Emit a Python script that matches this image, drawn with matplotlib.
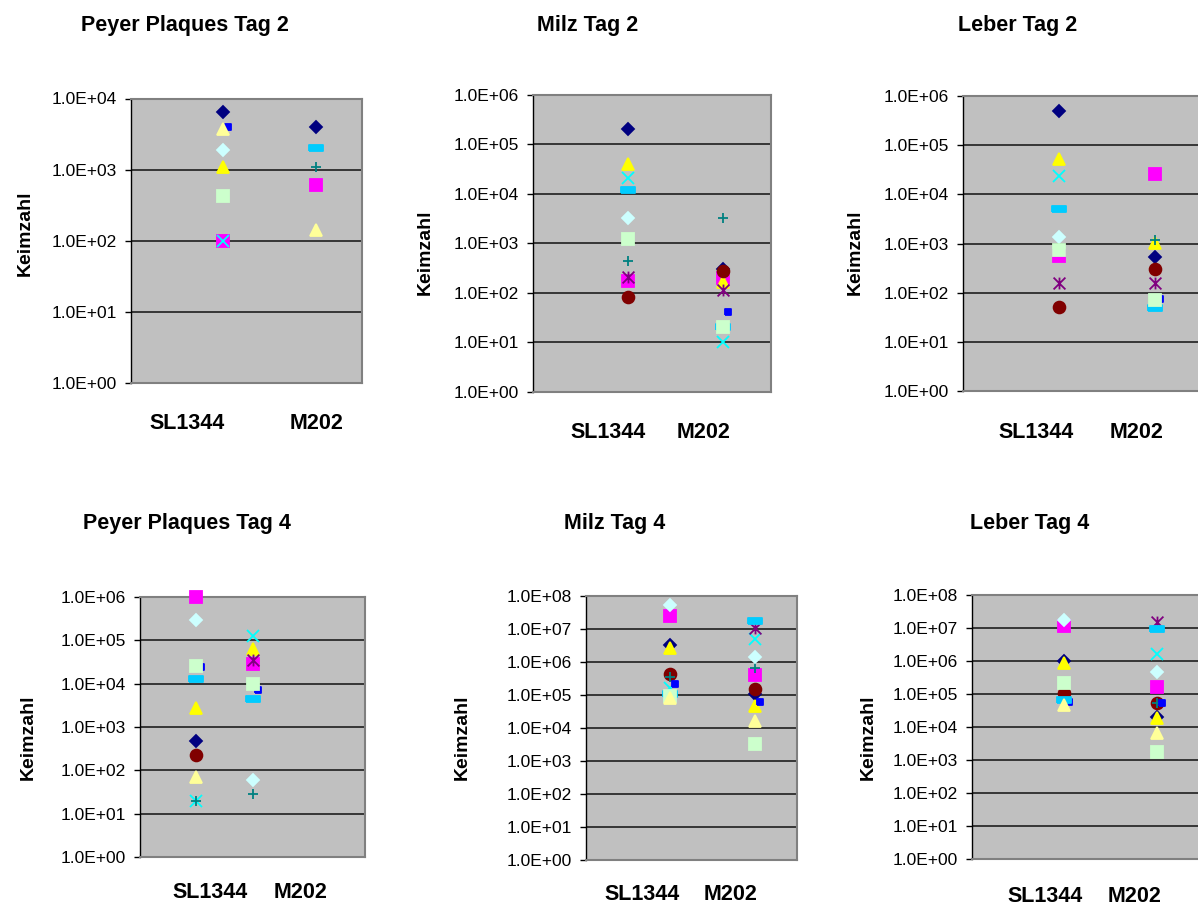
import numpy as np
import matplotlib
matplotlib.use("Agg")
import matplotlib.pyplot as plt
from matplotlib.path import Path
from matplotlib.ticker import FuncFormatter, LogLocator, NullLocator

plt.rcParams['font.family'] = ['Liberation Sans', 'DejaVu Sans']

nan = np.nan
groups = ["SL1344", "M202"]

# one value per animal (12 series, Excel default colours/markers), nan = no point
# order: navy, magenta, yellow, cyan, purple, darkred, teal, blue, skyblue, lightcyan, lightgreen, lightyellow
pp2_sl = [6400, 100, 1100, 100, nan, nan, nan, 4000, nan, 1900, 420, 3700]
pp2_m = [4000, 600, nan, nan, nan, nan, 1100, nan, 2000, nan, nan, 140]

milz2_sl = [2.1e5, 175, 4.1e4, 2.1e4, 210, 81, 430, nan, 1.2e4, 3200, 1230, nan]
milz2_m = [310, 195, 165, 10, 115, 270, 3200, 40, 20, nan, 20, nan]

leber2_sl = [4.9e5, 550, 5.2e4, 2.4e4, 155, 50, nan, nan, 5000, 1380, 740, nan]
leber2_m = [520, 2.6e4, 1040, nan, 155, 310, 1200, 76, 48, nan, 71, nan]

pp4_sl = [480, 1e6, 2700, 20, nan, 220, 20, 2.4e4, 1.3e4, 2.9e5, 2.5e4, 69]
pp4_m = [nan, 2.9e4, 6.2e4, 1.23e5, 3.5e4, nan, 28, 7300, 4500, 59, 1e4, nan]

milz4_sl = [3.3e6, 2.5e7, 2.7e6, 1.6e5, nan, 4.3e5, 3.4e5, 2.1e5, 1.1e5, 5.3e7, 9.5e4, 8.3e4]
milz4_m = [1.1e5, 3.9e5, 4.8e4, 4.9e6, 1.1e7, 1.5e5, 6.4e5, 6e4, 1.7e7, 1.45e6, 3200, 1.6e4]

leber4_sl = [1e6, 1.15e7, 8.5e5, nan, nan, 1.05e5, nan, 5.9e4, 6.6e4, 1.7e7, 2.1e5, 4.5e4]
leber4_m = [2e4, 1.66e5, 1.9e4, 1.6e6, 1.55e7, 5.5e4, 5.5e4, 5.2e4, 9.3e6, 4.5e5, 1800, 6500]

colors = ['#000080', '#FF00FF', '#FFFF00', '#00FFFF', '#800080', '#800000',
          '#008080', '#0000FF', '#00CCFF', '#CCFFFF', '#CCFFCC', '#FFFF99']

# custom Excel-like markers
star = Path([(-1, -1), (1, 1), (-1, 1), (1, -1), (0, -1), (0, 1)],
            [Path.MOVETO, Path.LINETO, Path.MOVETO, Path.LINETO, Path.MOVETO, Path.LINETO])
dash_short = [(1.7, -2.6), (7.7, -2.6), (7.7, 2.6), (1.7, 2.6), (1.7, -2.6)]
dash_long = [(-7, -2.8), (7, -2.8), (7, 2.8), (-7, 2.8), (-7, -2.8)]

markers = ['D', 's', '^', 'x', star, 'o', '+', dash_short, dash_long, 'D', 's', '^']
sizes = [6.3, 9, 9, 8.5, 8.5, 8.5, 7.5, 11.1, 10.1, 6.3, 9, 9]

W, H = 1198, 907
fig = plt.figure(figsize=(W / 100, H / 100), dpi=100)


def px_axes(l, t, r, b):
    return fig.add_axes([l / W, 1 - b / H, (r - l) / W, (b - t) / H])


def fig_text(x, y, s, **kw):
    fig.text(x / W, 1 - y / H, s, ha='center', va='center', **kw)


def panel(box, xmax, ytop, sl, m, title, tpos, kpos, lpos):
    ax = px_axes(*box)
    ax.set_facecolor('#C0C0C0')
    ax.set_yscale('log')
    ax.set_ylim(1, ytop)
    ax.set_xlim(0, xmax)
    ax.set_xticks([])
    ax.yaxis.set_major_locator(LogLocator(base=10, numticks=20))
    ax.yaxis.set_minor_locator(NullLocator())
    ax.yaxis.set_major_formatter(FuncFormatter(lambda v, p: f"{v:.1E}"))
    ax.tick_params(axis='y', direction='out', length=4, width=1, pad=6,
                   labelsize=12.5, color='black')
    ax.grid(axis='y', color='#111111', lw=1.1)
    ax.set_axisbelow(True)
    for s in ['top', 'right', 'bottom']:
        ax.spines[s].set_color('#808080')
        ax.spines[s].set_linewidth(1.5)
    ax.spines['left'].set_color('black')
    ax.spines['left'].set_linewidth(1)
    for i in range(12):
        ax.plot([1, 2], [sl[i], m[i]], ls='none', marker=markers[i], ms=sizes[i],
                color=colors[i], mfc=colors[i], mec=colors[i], mew=1.3,
                clip_on=False, zorder=3 + i)
    fig_text(*tpos, title, fontsize=15.5, fontweight='bold')
    fig_text(*kpos, "Keimzahl", fontsize=14, fontweight='bold', rotation=90)
    fig_text(lpos[0], lpos[2], groups[0], fontsize=15.5, fontweight='bold')
    fig_text(lpos[1], lpos[2], groups[1], fontsize=15.5, fontweight='bold')
    return ax


panel((131, 98.5, 362, 383), 2.5, 1e4, pp2_sl, pp2_m, "Peyer Plaques Tag 2",
      (185, 25), (25, 233), (187, 317, 424))
panel((533, 95, 771, 391.7), 2.5, 1e6, milz2_sl, milz2_m, "Milz Tag 2",
      (588, 25), (425, 252), (608, 704, 432))
panel((963, 96, 1203, 391), 2.5, 1e6, leber2_sl, leber2_m, "Leber Tag 2",
      (1018, 25), (855, 252), (1036, 1137, 432))
panel((140, 597, 365, 857), 4, 1e6, pp4_sl, pp4_m, "Peyer Plaques Tag 4",
      (187, 523), (28, 737), (210, 301, 893))
panel((586, 596, 797, 860), 2.5, 1e8, milz4_sl, milz4_m, "Milz Tag 4",
      (615, 523), (462, 737), (642, 731, 894))
panel((972, 595, 1203, 859), 2.5, 1e8, leber4_sl, leber4_m, "Leber Tag 4",
      (1030, 523), (868, 737), (1045, 1135, 897))

fig.savefig("out.png", dpi=100)
